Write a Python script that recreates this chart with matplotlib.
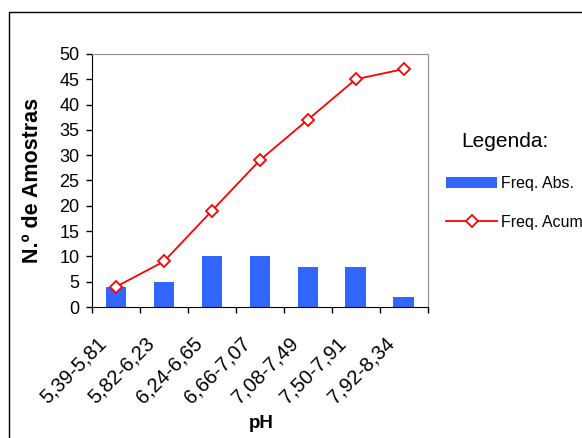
import matplotlib
matplotlib.use("Agg")
import matplotlib.pyplot as plt
import matplotlib.transforms as mtransforms
from matplotlib.patches import Rectangle
import numpy as np

plt.rcParams["font.family"] = ["Liberation Sans", "DejaVu Sans"]

# pH classes and sample counts
classes = ["5,39-5,81", "5,82-6,23", "6,24-6,65", "6,66-7,07",
           "7,08-7,49", "7,50-7,91", "7,92-8,34"]
freq_abs = [4, 5, 10, 10, 8, 8, 2]
freq_acum = [4, 9, 19, 29, 37, 45, 47]

blue = "#3366FF"
red = "#FF0000"

fig = plt.figure(figsize=(5.82, 4.38), dpi=100)
ax = fig.add_axes([0.158, 0.299, 0.577, 0.578])

x = np.arange(len(classes))
bars = ax.bar(x, freq_abs, width=0.43, color=blue, label="Freq. Abs.", zorder=2)
line, = ax.plot(x, freq_acum, color=red, lw=1.3, marker="D", markersize=6,
                markerfacecolor="white", markeredgecolor=red,
                markeredgewidth=1.3, label="Freq. Acum.", zorder=3)

ax.set_xlim(-0.5, len(classes) - 0.5)
ax.set_ylim(0, 50)
ax.set_yticks(range(0, 51, 5))
ax.tick_params(axis="y", labelsize=13, direction="out", length=4, width=1,
               pad=5)

# category boundaries carry the ticks, labels sit at the centers
ax.set_xticks(np.arange(-0.5, len(classes)), minor=False)
ax.set_xticklabels([])
ax.set_xticks(x, minor=True)
ax.set_xticklabels(classes, minor=True, rotation=45, ha="right",
                   va="top", rotation_mode="anchor", fontsize=14.5)
ax.tick_params(axis="x", which="major", direction="out", length=4.5, width=1)
ax.tick_params(axis="x", which="minor", length=0, pad=19)
shift = mtransforms.ScaledTranslation(-0.19, 0, fig.dpi_scale_trans)
for lab in ax.get_xticklabels(minor=True):
    lab.set_transform(lab.get_transform() + shift)

for side in ("top", "right"):
    ax.spines[side].set_color("#909090")
for side in ("left", "bottom"):
    ax.spines[side].set_color("black")

ax.set_ylabel("N.º de Amostras", fontsize=15.5, fontweight="bold")
ax.yaxis.set_label_coords(-0.145, 0.5)
fig.text(0.449, 0.023, "pH", fontsize=13.5, fontweight="bold",
         ha="center", va="baseline")

# legend entries, with the heading set above them
fig.text(0.868, 0.6655, "Legenda:", fontsize=15, ha="center", va="baseline")
ax.legend([bars, line], ["Freq. Abs.", "Freq. Acum."],
          loc="center left", bbox_to_anchor=(446 / 582, 0.537),
          bbox_transform=fig.transFigure, frameon=False, fontsize=11.5,
          handlelength=3.2, handletextpad=0.25, labelspacing=1.5,
          borderpad=0, borderaxespad=0)

# outer chart frame
fig.patches.append(Rectangle((9 / 582, -0.1), 1.2, 1.1 - 12 / 438,
                             transform=fig.transFigure, fill=False,
                             edgecolor="black", lw=1))

fig.savefig("out.png", dpi=100)
